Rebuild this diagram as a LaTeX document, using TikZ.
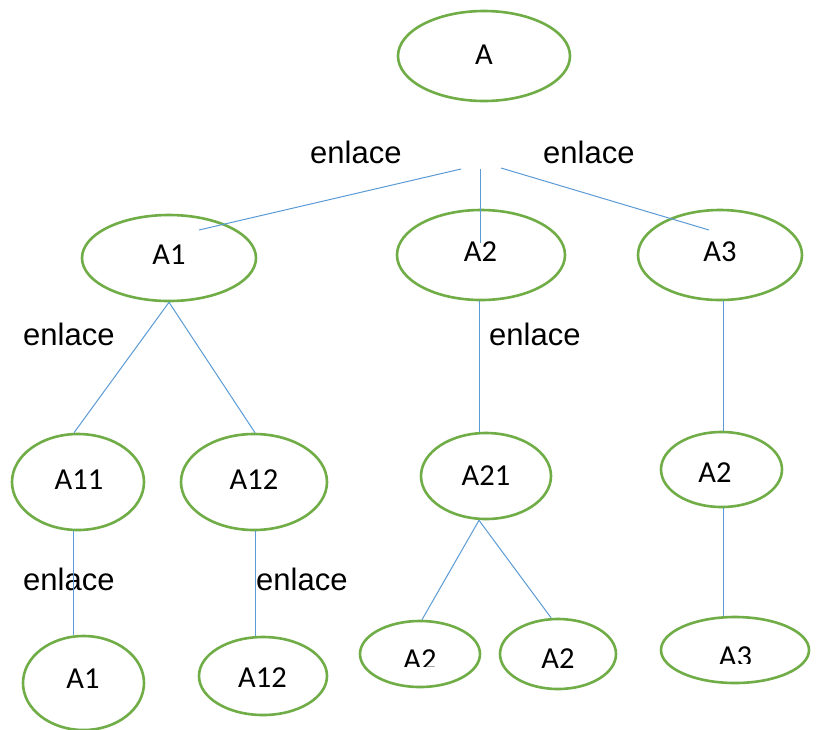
\documentclass[tikz,border=0pt]{standalone}
\usepackage{fontspec}
\setmainfont{Liberation Sans}
\newfontfamily\carlfont{Carlito}
\usetikzlibrary{shapes.geometric}
\definecolor{elgreen}{HTML}{70AD47}
\definecolor{lnblue}{HTML}{5B9BD5}
\begin{document}
\begin{tikzpicture}[x=1pt,y=-1pt,
  ell/.style={draw=elgreen, line width=2.6pt, ellipse, inner sep=0pt},
  lbl/.style={font=\carlfont\fontsize{30.5}{36}\selectfont, inner sep=0pt},
  enl/.style={font=\fontsize{31}{36}\selectfont, inner sep=0pt, anchor=base west},
  conn/.style={draw=lnblue, line width=1pt}]
\useasboundingbox (0,0) rectangle (819,729);
\fill[white] (0,0) rectangle (819,729);

% ellipses
\node[ell, minimum width=172, minimum height=90] (A)   at (484,56)  {};
\node[ell, minimum width=174, minimum height=86] (A1)  at (169,258) {};
\node[ell, minimum width=168, minimum height=90] (A2)  at (481,255) {};
\node[ell, minimum width=164, minimum height=90] (A3)  at (720,255) {};
\node[ell, minimum width=132, minimum height=96] (A11) at (78,482)  {};
\node[ell, minimum width=146, minimum height=96] (A12) at (254,482) {};
\node[ell, minimum width=130, minimum height=86] (A21) at (486,476) {};
\node[ell, minimum width=121, minimum height=75] (A2r) at (721.5,469.5) {};
\node[ell, minimum width=121, minimum height=94] (B1)  at (83.5,683) {};
\node[ell, minimum width=128, minimum height=78] (B12) at (263,676) {};
\node[ell, minimum width=120, minimum height=66] (B2l) at (420,654) {};
\node[ell, minimum width=116, minimum height=70] (B2r) at (558,654) {};
\node[ell, minimum width=148, minimum height=66] (B3)  at (735,650) {};

% labels
\node[lbl] (tA)   at (484,55)    {A};
\node[lbl] (tA1)  at (169,255)   {A1};
\node[lbl] (tA2)  at (480.5,251.5) {A2};
\node[lbl] (tA3)  at (720,252)   {A3};
\node[lbl] (tA11) at (79,480)    {A11};
\node[lbl] (tA12) at (254,480)   {A12};
\node[lbl] (tA21) at (486,476)   {A21};
\node[lbl] (tA2r) at (715,472.5) {A2};
\node[lbl] (tB1)  at (83,678.5)  {A1};
\node[lbl] (tB12) at (262.5,677.5) {A12};
\node[lbl] (tB2r) at (558,658.5) {A2};
\begin{scope}
  \clip (380,600) rectangle (470,666.5);
  \node[lbl] (tB2l) at (420,660) {A2};
\end{scope}
\begin{scope}
  \clip (690,600) rectangle (790,663);
  \node[lbl] (tB3) at (735.5,657) {A3};
\end{scope}

% enlace texts
\node[enl] (e1) at (310,163) {enlace};
\node[enl] (e2) at (543,163) {enlace};
\node[enl] (e3) at (23,345)  {enlace};
\node[enl] (e4) at (489,345) {enlace};
\node[enl] (e5) at (23,590)  {enlace};
\node[enl] (e6) at (256,590) {enlace};

% free ends of top connectors
\coordinate (s1) at (461,169);
\coordinate (t1) at (199,230);
\coordinate (s2) at (480,169);
\coordinate (t2) at (480,243);
\coordinate (s3) at (501,168);
\coordinate (t3) at (709,230);

% connectors
\draw[conn] (s1) -- (t1);
\draw[conn] (s2) -- (t2);
\draw[conn] (s3) -- (t3);
\draw[conn] (A1.south) -- ([xshift=-4pt]A11.north);
\draw[conn] (A1.south) -- ([xshift=1pt]A12.north);
\draw[conn] ([xshift=-2pt]A2.south) -- ([xshift=-7pt]A21.north);
\draw[conn] ([xshift=3pt]A3.south) -- ([xshift=1.5pt]A2r.north);
\draw[conn] ([xshift=1.5pt]A2r.south) -- ([xshift=-12pt]B3.north);
\draw[conn] ([xshift=-5pt]A11.south) -- ([xshift=-10.5pt]B1.north);
\draw[conn] ([xshift=1pt]A12.south) -- ([xshift=-8pt]B12.north);
\draw[conn] ([xshift=-7pt]A21.south) -- ([xshift=2pt]B2l.north);
\draw[conn] ([xshift=-7pt]A21.south) -- ([xshift=-7pt]B2r.north);
\end{tikzpicture}
\end{document}
